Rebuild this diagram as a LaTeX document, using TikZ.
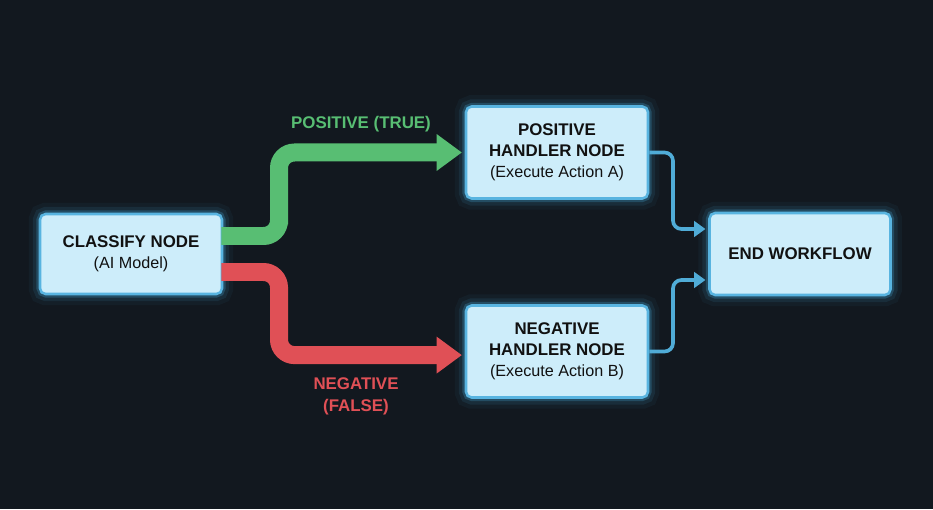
\documentclass[tikz,border=0pt]{standalone}
\usepackage{fontspec}
\setmainfont{Liberation Sans}
\usepackage{xcolor}
\usetikzlibrary{arrows.meta, positioning, calc}

\definecolor{bgc}{RGB}{18,24,31}
\definecolor{boxfill}{RGB}{205,237,250}
\definecolor{boxline}{RGB}{88,180,224}
\definecolor{glowc}{RGB}{70,175,225}
\definecolor{posc}{RGB}{88,190,115}
\definecolor{negc}{RGB}{224,80,86}
\definecolor{linkc}{RGB}{80,172,215}
\definecolor{txt}{RGB}{17,17,17}
\newcommand{\subfont}{\fontsize{11.5}{15}\selectfont}

\begin{document}
\begin{tikzpicture}[
    box/.style={rectangle, draw=boxline, fill=boxfill, line width=1.8pt,
                rounded corners=4pt, align=center, text=txt,
                minimum width=4.55cm, minimum height=2.3cm,
                font=\fontsize{12}{15}\selectfont,
                preaction={draw=glowc, line width=16pt, opacity=0.05},
                preaction={draw=glowc, line width=10pt, opacity=0.10},
                preaction={draw=glowc, line width=5pt, opacity=0.25}},
    flow/.style={line width=12.8pt, rounded corners=11pt,
                 -{Triangle[length=18pt, width=25pt]}, shorten >=2pt},
    link/.style={draw=linkc, line width=2.6pt, rounded corners=6pt,
                 -{Triangle[length=8pt, width=11pt]}, shorten >=2pt},
    lbl/.style={align=center, font=\bfseries\fontsize{12}{15.5}\selectfont},
  ]
    \fill[bgc] (0,0) rectangle (23.325,12.725);
    \useasboundingbox (0,0) rectangle (23.325,12.725);

    % Classifier
    \node[box, minimum height=2.0cm] (classify) at (3.275,6.375)
      {\textbf{CLASSIFY NODE}\\{\subfont (AI Model)}};

    % Handlers
    \node[box] (pos) at (13.925,8.9125)
      {\textbf{POSITIVE}\\\textbf{HANDLER NODE}\\{\subfont (Execute Action A)}};
    \node[box] (neg) at (13.925,3.9375)
      {\textbf{NEGATIVE}\\\textbf{HANDLER NODE}\\{\subfont (Execute Action B)}};

    % End
    \node[box, minimum width=4.525cm, minimum height=2.05cm] (end) at (20.0,6.375)
      {\textbf{END WORKFLOW}};

    % Branches
    \draw[flow, posc] ($(classify.east)+(-0.05,0.45)$) -| (6.975,7.5) |- (pos.west);
    \draw[flow, negc] ($(classify.east)+(-0.05,-0.45)$) -| (6.975,5.0) |- ($(neg.west)+(0,-0.09)$);

    \node[lbl, text=posc] (poslbl) at (9.025,9.625) {POSITIVE (TRUE)};
    \node[lbl, text=negc] (neglbl) at (8.9,2.825) {NEGATIVE\\(FALSE)};

    % Joins
    \draw[link] (pos.east) -| (16.825,7.5) |- ($(end.west)+(0,0.625)$);
    \draw[link] (neg.east) -| (16.825,5.2) |- ($(end.west)+(0,-0.65)$);
  \end{tikzpicture}
\end{document}
